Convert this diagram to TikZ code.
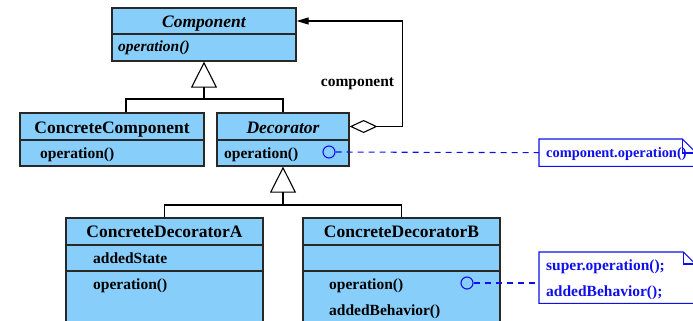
\documentclass[tikz,border=0pt]{standalone}
\usepackage{fontspec}
\setmainfont{Liberation Serif}
\usetikzlibrary{arrows.meta}
\definecolor{classfill}{RGB}{135,206,250}
\definecolor{classedge}{RGB}{40,40,40}
\definecolor{noteblue}{RGB}{15,15,235}
\begin{document}
\begin{tikzpicture}[x=1pt,y=-1pt,
  compart/.style={draw=classedge, fill=classfill, line width=1.2pt, inner sep=0pt,
    minimum width=#1},
  title/.style={font=\fontsize{17.5}{20}\selectfont\bfseries, anchor=base, inner sep=0pt},
  ititle/.style={title, font=\fontsize{17.5}{20}\selectfont\bfseries\itshape},
  member/.style={font=\fontsize{15.5}{18}\selectfont\bfseries, anchor=base west, inner sep=0pt},
  conn/.style={draw=black, line width=1.1pt},
  inh/.style={conn, -{Triangle[open, length=26pt, width=26pt, line width=1.1pt]}},
  agg/.style={conn, {Diamond[open, length=28pt, width=13pt, line width=1.1pt]}-{Triangle[length=12pt, width=7pt]}},
  notebox/.style={minimum width=#1, inner sep=0pt, anchor=north west},
  noteline/.style={draw=noteblue, line width=1.1pt},
  notetext/.style={font=\fontsize{15.5}{18}\selectfont\bfseries, text=noteblue, anchor=base west, inner sep=0pt},
  port/.style={circle, draw=noteblue, line width=1.1pt, minimum size=12pt, inner sep=0pt},
  link/.style={draw=noteblue, line width=1.1pt, dash pattern=on 6pt off 5pt}]
\useasboundingbox (0,0) rectangle (693,321);
\clip (0,0) rectangle (693,321);

% Component
\node[compart=184pt, minimum height=26pt] (compT) at (204,21) {};
\node[compart=184pt, minimum height=27pt] (compM) at (204,47.5) {};
\node[ititle] (compTt) at (204,27.5) {Component};
\node[member, font=\fontsize{15.5}{18}\selectfont\bfseries\itshape] (compMt) at (118,52) {operation()};

% ConcreteComponent
\node[compart=184pt, minimum height=27pt] (ccT) at (112,126.5) {};
\node[compart=184pt, minimum height=26pt] (ccM) at (112,153) {};
\node[title] (ccTt) at (112,133.5) {ConcreteComponent};
\node[member] (ccMt) at (40,158) {operation()};

% Decorator
\node[compart=132pt, minimum height=27pt] (decT) at (283,126.5) {};
\node[compart=132pt, minimum height=26pt] (decM) at (283,153) {};
\node[ititle] (decTt) at (283,133.5) {Decorator};
\node[member] (decMt) at (224,158) {operation()};

% ConcreteDecoratorA
\node[compart=197pt, minimum height=27pt] (cdaT) at (164.5,231.5) {};
\node[compart=197pt, minimum height=26pt] (cdaA) at (164.5,258) {};
\node[compart=197pt, minimum height=60pt] (cdaM) at (164.5,301) {};
\node[title] (cdaTt) at (164.5,237.5) {ConcreteDecoratorA};
\node[member] (cdaAt) at (93,263) {addedState};
\node[member] (cdaMt) at (93,289) {operation()};

% ConcreteDecoratorB
\node[compart=197pt, minimum height=27pt] (cdbT) at (401.5,231.5) {};
\node[compart=197pt, minimum height=26pt] (cdbA) at (401.5,258) {};
\node[compart=197pt, minimum height=60pt] (cdbM) at (401.5,301) {};
\node[title] (cdbTt) at (401.5,237.5) {ConcreteDecoratorB};
\node[member] (cdbM1) at (329,289) {operation()};
\node[member] (cdbM2) at (329,315) {addedBehavior()};

% generalisation from Component
\coordinate (j1) at (204,99);
\draw[inh] (j1) -- (compM.south);
\draw[conn] ([xshift=14pt]ccT.north) |- (j1) -| (decT.north);

% generalisation from Decorator
\coordinate (j2) at (283,205);
\draw[inh] (j2) -- (decM.south);
\draw[conn] (cdaT.north) |- (j2) -| (cdbT.north);

% aggregation Decorator -> Component
\draw[agg] (decT.east) -- ++(53,0) |- (compT.east);
\node[font=\fontsize{15.5}{18}\selectfont\bfseries, anchor=base, inner sep=0pt] (aggl) at (357.5,86) {component};

% note on Decorator::operation
\node[notebox=157pt, minimum height=27pt] (note1) at (539,139) {};
\draw[noteline] (note1.north west) -- ([xshift=-14pt]note1.north east)
  -- ([yshift=-14pt]note1.north east) -- (note1.south east) -- (note1.south west) -- cycle;
\draw[noteline] ([xshift=-14pt]note1.north east) |- ([yshift=-14pt]note1.north east);
\node[notetext, font=\fontsize{14.4}{17}\selectfont\bfseries] (note1t) at (546,157) {component.operation()};
\node[port] (p1) at (329,152) {};
\draw[link] (p1.east) -- (note1.west);

% note on ConcreteDecoratorB::operation
\node[notebox=156pt, minimum height=51pt] (note2) at (539,252) {};
\draw[noteline] (note2.north west) -- ([xshift=-12pt]note2.north east)
  -- ([yshift=-12pt]note2.north east) -- (note2.south east) -- (note2.south west) -- cycle;
\draw[noteline] ([xshift=-12pt]note2.north east) |- ([yshift=-12pt]note2.north east);
\node[notetext] (note2a) at (546,270) {super.operation();};
\node[notetext] (note2b) at (546,296) {addedBehavior();};
\node[port] (p2) at (467,283) {};
\draw[link] (p2.east) -- (p2.east -| note2.west);
\end{tikzpicture}
\end{document}
